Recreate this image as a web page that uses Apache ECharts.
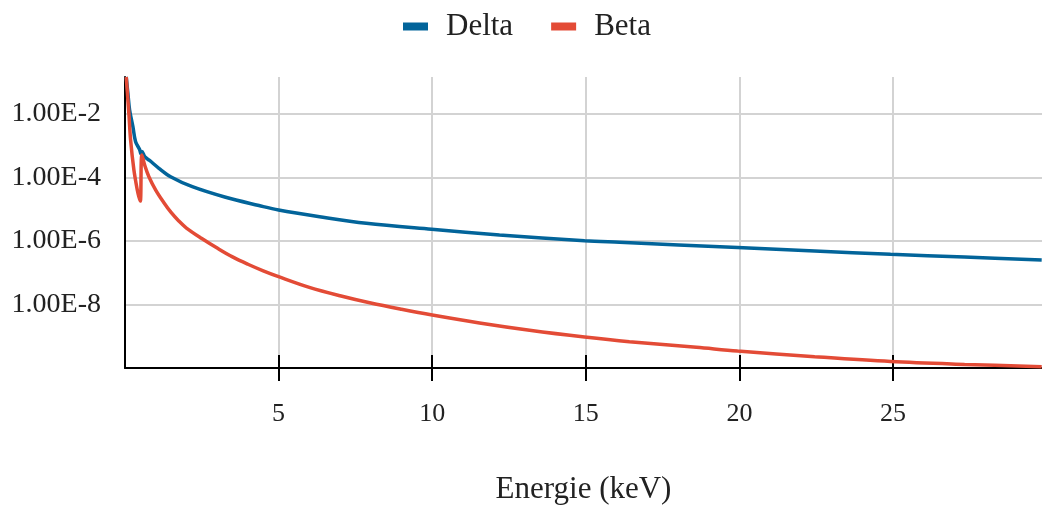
<!DOCTYPE html>
<html>
<head>
<meta charset="utf-8">
<script src="https://cdn.jsdelivr.net/npm/echarts@6/dist/echarts.min.js"></script>
<style>
html,body{margin:0;padding:0;background:#fff;}
#chart{width:1042px;height:505px;}
</style>
</head>
<body>
<div id="chart"></div>
<script>
const seriesNames = ['Delta', 'Beta'];
const xAxisTitle = 'Energie (keV)';
const xTicks = [5, 10, 15, 20, 25];
const yTicks = [1e-2, 1e-4, 1e-6, 1e-8];

const deltaEnergy = [0.04, 0.094, 0.15, 0.257, 0.345, 0.475, 0.52, 0.55, 0.651, 0.80, 1.104, 1.484, 2.191, 3.275, 4.359, 5.0, 6.335, 7.855, 9.98, 12.19, 14.96, 16.10, 19.94, 22.45, 24.92, 27.33, 29.84];
const deltaValues = [0.146, 0.0449, 0.0134, 0.00398, 1.34e-3, 7.62e-4, 5.5e-4, 6.59e-4, 4.43e-4, 3.43e-4, 1.95e-4, 1.06e-4, 5.13e-5, 2.38e-5, 1.31e-5, 9.46e-6, 5.82e-6, 3.61e-6, 2.34e-6, 1.55e-6, 1.02e-6, 9.1e-7, 6.24e-7, 4.84e-7, 3.81e-7, 3.13e-7, 2.52e-7];

const betaEnergy = [0.04, 0.127, 0.182, 0.29, 0.40, 0.452, 0.50, 0.55, 0.65, 0.778, 1.0, 1.25, 1.5, 1.75, 2.0, 2.5, 3.0, 3.5, 4.0, 4.5, 5.0, 6.0, 7.0, 8.0, 9.0, 10.0, 11.54, 13.17, 14.96, 16.42, 18.60, 19.94, 22.45, 24.92, 27.33, 29.84];
const betaValues = [0.146, 0.01, 1.52e-3, 1.72e-4, 4.04e-5, 2.48e-5, 1.82e-5, 5.12e-4, 2.3e-4, 1.06e-4, 4.0e-5, 1.69e-5, 7.91e-6, 4.27e-6, 2.56e-6, 1.2e-6, 6.0e-7, 3.15e-7, 1.85e-7, 1.15e-7, 7.52e-8, 3.46e-8, 1.88e-8, 1.11e-8, 7.06e-9, 4.66e-9, 2.63e-9, 1.55e-9, 9.46e-10, 6.73e-10, 4.49e-10, 3.43e-10, 2.27e-10, 1.60e-10, 1.30e-10, 1.10e-10];

const colors = ['#02649a', '#e34b36'];
const FONT = '"Liberation Serif", "DejaVu Serif", serif';
const TXT = '#222';

function zip(xs, ys) { return xs.map((x, i) => [x, ys[i]]); }
function isYTick(v) { return yTicks.some(t => Math.abs(Math.log10(v) - Math.log10(t)) < 1e-6); }

const xCommon = {
  type: 'value', min: 0, max: 29.85, interval: 5, position: 'bottom'
};

const chart = echarts.init(document.getElementById('chart'), null, {renderer: 'canvas'});
chart.setOption({
  animation: false,
  backgroundColor: '#fff',
  color: colors,
  textStyle: {fontFamily: FONT, color: TXT},
  legend: {
    top: 6, left: 398,
    icon: 'rect', itemWidth: 25, itemHeight: 8, itemGap: 38,
    textStyle: {fontFamily: FONT, fontSize: 31, color: TXT, padding: [0, 0, 0, 13]},
    data: seriesNames
  },
  grid: {left: 125, right: 0, top: 77, bottom: 137, containLabel: false, outerBoundsMode: 'none'},
  xAxis: [
    Object.assign({}, xCommon, {
      name: xAxisTitle, nameLocation: 'middle', nameGap: 106,
      nameTextStyle: {fontFamily: FONT, fontSize: 31, color: TXT},
      axisLine: {show: true, lineStyle: {color: '#000', width: 2}},
      axisTick: {show: true, inside: false, length: 13, lineStyle: {color: '#000', width: 2},
                 customValues: xTicks},
      axisLabel: {show: true, margin: 33, fontFamily: FONT, fontSize: 26, color: TXT,
                  customValues: xTicks, formatter: v => String(v)},
      splitLine: {show: true, lineStyle: {color: '#d3d3d3', width: 2}}
    }),
    Object.assign({}, xCommon, {
      axisLine: {show: false},
      axisTick: {show: true, inside: true, length: 13, lineStyle: {color: '#000', width: 2},
                 customValues: xTicks},
      axisLabel: {show: false},
      splitLine: {show: false}
    })
  ],
  yAxis: {
    type: 'log', logBase: 10, min: 1e-10, max: 0.146, interval: 2,
    axisLine: {show: true, lineStyle: {color: '#000', width: 2}},
    axisTick: {show: false},
    axisLabel: {margin: 24, fontFamily: FONT, fontSize: 28, color: TXT,
                formatter: v => isYTick(v) ? v.toExponential(2).toUpperCase() : ''},
    splitLine: {show: true, lineStyle: {color: '#d3d3d3', width: 2}, showMaxLine: false, showMinLine: false}
  },
  series: [
    {name: seriesNames[0], type: 'line', xAxisIndex: 0, data: zip(deltaEnergy, deltaValues),
     showSymbol: false, smooth: 0.35, clip: true,
     lineStyle: {width: 3.5, color: colors[0]}, itemStyle: {color: colors[0]}},
    {name: seriesNames[1], type: 'line', xAxisIndex: 0, data: zip(betaEnergy, betaValues),
     showSymbol: false, smooth: 0.35, clip: true,
     lineStyle: {width: 3.5, color: colors[1]}, itemStyle: {color: colors[1]}}
  ]
});
</script>
</body>
</html>
